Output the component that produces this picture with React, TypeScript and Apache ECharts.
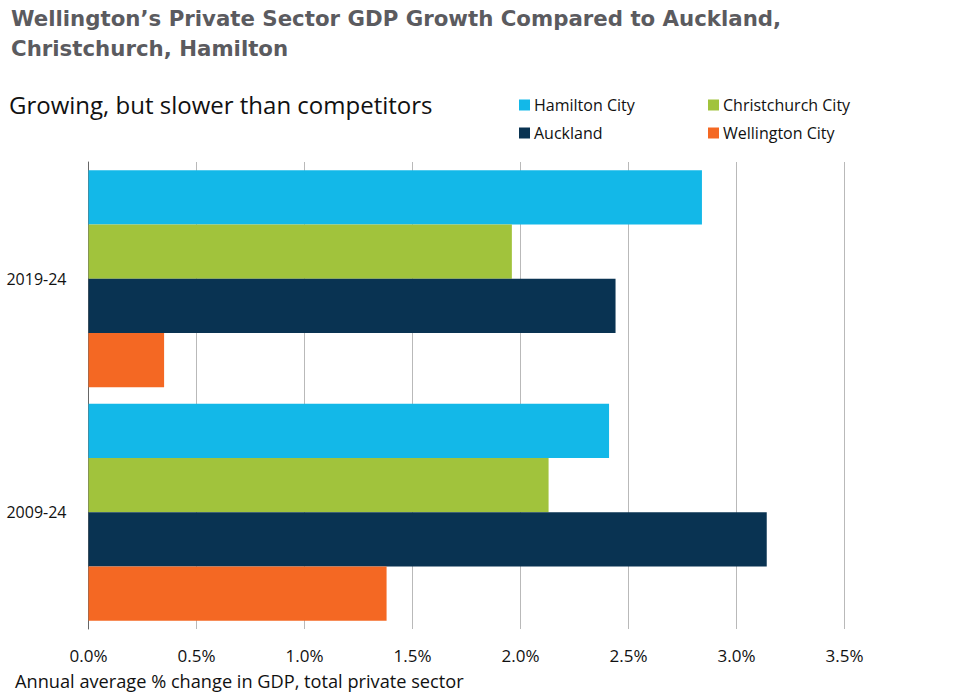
import React, { useEffect, useRef } from "react";
import * as echarts from "echarts";

const categories = ["2009-24", "2019-24"];
const seriesNames = ["Hamilton City", "Christchurch City", "Auckland", "Wellington City"];
const hamilton = [2.41, 2.84];
const christchurch = [2.13, 1.96];
const auckland = [3.14, 2.44];
const wellington = [1.38, 0.35];
const colors = ["#13b8e8", "#a1c33c", "#093352", "#f46823"];
const xTicks = [0, 0.5, 1, 1.5, 2, 2.5, 3, 3.5];

const TITLE = "Wellington\u2019s Private Sector GDP Growth Compared to Auckland,\nChristchurch, Hamilton";
const SUBTITLE = "Growing, but slower than competitors";
const AXIS_NAME = "Annual average % change in GDP, total private sector";

export default function App() {
  const ref = useRef<HTMLDivElement>(null);
  useEffect(() => {
    if (!ref.current) return;
    const chart = echarts.init(ref.current, null, { renderer: "svg" });
    const values = [hamilton, christchurch, auckland, wellington];
    const font = "'Open Sans', sans-serif";
    const legendPos = [
      { left: 519, top: 97 },
      { left: 708, top: 97 },
      { left: 519, top: 125 },
      { left: 708, top: 125 },
    ];
    chart.setOption({
      animation: false,
      title: [
        {
          text: TITLE,
          left: 6,
          top: -2,
          textStyle: {
            fontFamily: "'DejaVu Sans', sans-serif",
            fontWeight: "bold",
            fontSize: 21.3,
            color: "#5b5b5f",
            lineHeight: 30.5,
          },
        },
        {
          text: SUBTITLE,
          left: 4,
          top: 87,
          textStyle: { fontFamily: font, fontWeight: "normal", fontSize: 24, color: "#111" },
        },
        {
          text: AXIS_NAME,
          left: 10,
          top: 667,
          textStyle: { fontFamily: font, fontWeight: "normal", fontSize: 18.2, color: "#111" },
        },
      ],
      legend: seriesNames.map((n, i) => ({
        data: [n],
        left: legendPos[i].left,
        top: legendPos[i].top,
        itemWidth: 11,
        itemHeight: 11,
        itemGap: 0,
        icon: "rect",
        padding: 0,
        selectedMode: false,
        textStyle: { fontFamily: font, fontSize: 16, color: "#111", padding: [0, 0, 0, -1] },
      })),
      grid: { left: 88.5, right: 119.5, top: 162, bottom: 70, containLabel: false },
      xAxis: {
        type: "value",
        min: 0,
        max: 3.5,
        interval: 0.5,
        axisLine: { show: false },
        axisTick: { show: false },
        splitLine: { show: true, lineStyle: { color: "#b9b9b9", width: 1 } },
        axisLabel: {
          margin: 18,
          fontFamily: font,
          fontSize: 17,
          color: "#111",
          formatter: (v: number) => v.toFixed(1) + "%",
          customValues: xTicks,
        },
      },
      yAxis: {
        type: "category",
        data: categories,
        axisLine: { show: true, lineStyle: { color: "#666", width: 1 } },
        axisTick: { show: false },
        axisLabel: { margin: 22, fontFamily: font, fontSize: 16, color: "#111" },
      },
      series: seriesNames.map((n, i) => ({
        name: n,
        type: "bar",
        data: values[i],
        barGap: "0%",
        barCategoryGap: "7%",
        itemStyle: { color: colors[i] },
      })),
    });
    return () => chart.dispose();
  }, []);
  return <div ref={ref} style={{ width: 964, height: 699, position: "absolute", left: 0, top: 0 }} />;
}
